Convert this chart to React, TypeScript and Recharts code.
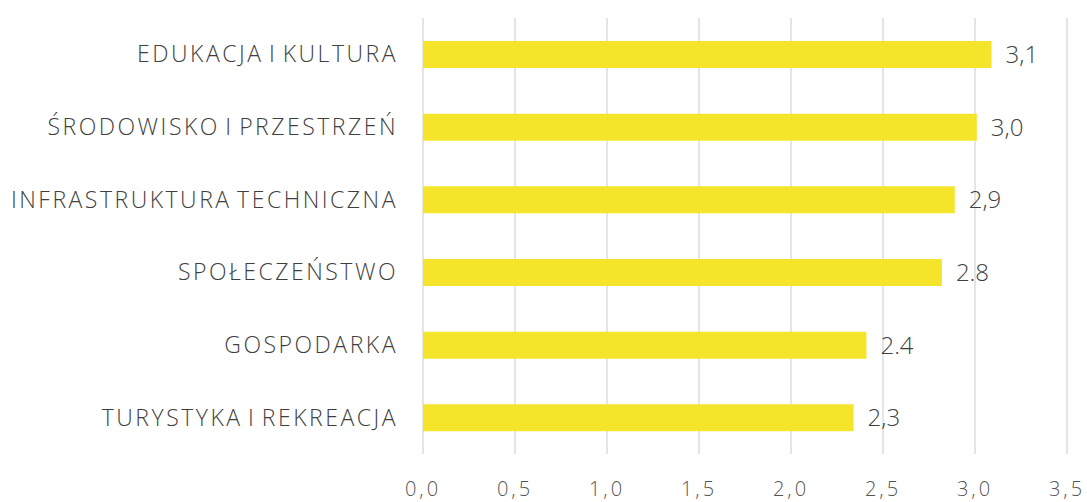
import { Bar, BarChart, CartesianGrid, LabelList, XAxis, YAxis } from "recharts";

const categories = [
  "EDUKACJA I KULTURA",
  "ŚRODOWISKO I PRZESTRZEŃ",
  "INFRASTRUKTURA TECHNICZNA",
  "SPOŁECZEŃSTWO",
  "GOSPODARKA",
  "TURYSTYKA I REKREACJA",
];

const values = [3.09, 3.01, 2.89, 2.82, 2.41, 2.34];

const valueLabels = ["3,1", "3,0", "2,9", "2.8", "2.4", "2,3"];

const xTicks = [0, 0.5, 1, 1.5, 2, 2.5, 3, 3.5];

const data = categories.map((name, i) => ({
  name,
  value: values[i],
  label: valueLabels[i],
}));

const FONT = "'Open Sans', 'Noto Sans', sans-serif";
const TEXT = "#3f3f3f";

function formatTick(value: number): string {
  return value.toFixed(1).replace(".", ",");
}

export default function App() {
  return (
    <div
      style={{
        position: "absolute",
        left: 0,
        top: 0,
        width: 1087,
        height: 502,
        background: "#ffffff",
        fontFamily: FONT,
      }}
    >
      <BarChart
        width={1087}
        height={502}
        data={data}
        layout="vertical"
        margin={{ top: 18, right: 20, bottom: 0, left: 0 }}
        barCategoryGap={23}
      >
        <CartesianGrid
          horizontal={false}
          stroke="#dcdcdc"
          strokeWidth={1.5}
        />

        <XAxis
          type="number"
          domain={[0, 3.5]}
          ticks={xTicks}
          tickFormatter={formatTick}
          axisLine={false}
          tickLine={false}
          tickSize={0}
          tickMargin={28}
          height={48}
          interval={0}
          tick={{
            fill: "#555555",
            fontSize: 20,
            fontWeight: 300,
            fontFamily: FONT,
            letterSpacing: 3,
          }}
        />

        <YAxis
          type="category"
          dataKey="name"
          width={423}
          axisLine={false}
          tickLine={false}
          tickSize={0}
          tickMargin={25}
          interval={0}
          tick={{
            fill: TEXT,
            fontSize: 23,
            fontWeight: 300,
            fontFamily: FONT,
            letterSpacing: 2.5,
            wordSpacing: -3,
          }}
        />

        <Bar
          dataKey="value"
          fill="#f4e52a"
          barSize={27}
          isAnimationActive={false}
        >
          <LabelList
            dataKey="label"
            position="right"
            offset={14}
            fill={TEXT}
            fontSize={24}
            fontWeight={300}
            fontFamily={FONT}
          />
        </Bar>
      </BarChart>
    </div>
  );
}
